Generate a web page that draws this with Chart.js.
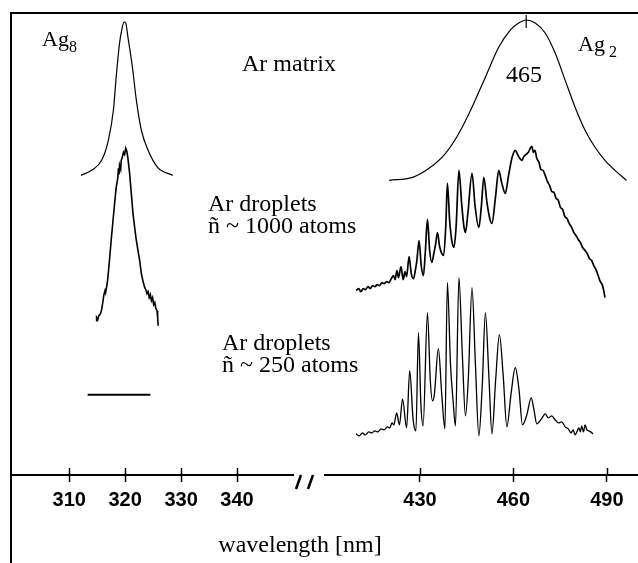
<!DOCTYPE html>
<html>
<head>
<meta charset="utf-8">
<script src="https://cdn.jsdelivr.net/npm/chart.js@4.4.1/dist/chart.umd.min.js"></script>
<style>
  html, body { margin: 0; padding: 0; background: #fff; }
  #wrap { width: 638px; height: 563px; }
</style>
</head>
<body>
<div id="wrap"><canvas id="chart" width="638" height="563"></canvas></div>
<script>
// Ag8, Ar matrix (smooth band around 320 nm)
const ag8MatrixNm  = [312.1, 314.0, 315.8, 317.0, 317.9, 318.4, 319.0, 319.5, 319.8, 320.1, 320.5, 321.3, 322.0, 322.9, 324.1, 325.8, 328.5];
const ag8MatrixInt = [299, 304, 314, 334, 364, 397, 431, 447, 452, 451, 437, 407, 374, 344, 324, 307, 299];

// Ag8, Ar droplets n ~ 1000
const ag8DropNm  = [314.8, 314.9, 315.1, 315.3, 315.6, 315.8, 316.0, 316.2, 316.4, 316.5, 316.7, 316.9, 317.2, 317.5, 317.8, 318.1, 318.4, 318.7, 318.8, 318.9, 319.0, 319.2, 319.3, 319.5, 319.7, 319.9, 320.1, 320.3, 320.5, 320.8, 321.1, 321.4, 321.7, 322.0, 322.3, 322.6, 322.9, 323.2, 323.5, 323.7, 323.9, 324.1, 324.3, 324.5, 324.7, 324.9, 325.1, 325.3, 325.5, 325.7, 325.8, 325.9];
const ag8DropInt = [154, 157, 155, 159, 161, 165, 172, 180, 184, 182, 188, 196, 214, 234, 252, 270, 287, 297, 306, 300, 309, 305, 314, 317, 322, 320, 326, 323, 316, 301, 281, 261, 247, 234, 224, 214, 201, 193, 187, 185, 181, 183, 177, 180, 174, 177, 170, 172, 166, 164, 158, 149];

// scale bar under the Ag8 traces
const ag8BarNm  = [313.3, 324.5];
const ag8BarInt = [80, 80];

// Ag2, Ar matrix (broad band, max at 465 nm)
const ag2MatrixNm  = [420.1, 427.6, 432.9, 438.2, 442.5, 446.7, 451.0, 455.3, 459.0, 461.7, 464.1, 467.0, 470.2, 473.4, 476.6, 479.8, 483.0, 486.2, 489.4, 492.6, 496.3];
const ag2MatrixInt = [294, 297, 306, 321, 341, 367, 397, 427, 444, 451, 454, 451, 441, 421, 394, 367, 344, 327, 314, 304, 294];
const ag2PeakNm  = [464.1, 464.1];
const ag2PeakInt = [446, 459];

// Ag2, Ar droplets n ~ 1000
const ag2D1000Nm  = [409.5, 410.3, 411.0, 411.8, 412.5, 413.3, 414.0, 414.8, 415.5, 416.3, 417.0, 417.8, 418.5, 419.3, 420.0, 420.8, 421.5, 422.0, 422.6, 423.1, 423.9, 424.6, 425.2, 425.7, 426.5, 427.2, 427.9, 428.6, 429.0, 429.7, 430.4, 431.1, 431.7, 432.4, 433.1, 433.8, 434.5, 435.0, 435.6, 436.3, 437.0, 437.6, 438.3, 438.8, 439.5, 440.2, 440.9, 441.6, 442.5, 443.4, 444.1, 444.6, 445.4, 446.7, 447.7, 448.9, 449.7, 450.5, 451.5, 452.4, 453.1, 454.2, 455.3, 456.2, 457.4, 458.4, 459.5, 460.6, 461.3, 462.0, 462.7, 463.4, 464.1, 464.8, 465.4, 465.9, 466.4, 466.9, 467.5, 468.2, 468.8, 469.5, 470.2, 470.9, 471.6, 472.3, 473.0, 473.7, 474.4, 475.1, 475.8, 476.5, 477.2, 477.9, 478.7, 479.4, 480.1, 480.8, 481.5, 482.2, 483.0, 483.7, 484.4, 485.1, 485.8, 486.5, 487.2, 487.9, 488.5, 489.0, 489.4];
const ag2D1000Int = [184, 186, 183, 186, 185, 188, 186, 189, 188, 190, 189, 192, 191, 193, 192, 196, 199, 195, 204, 197, 208, 195, 203, 198, 218, 201, 196, 206, 214, 234, 209, 199, 222, 255, 224, 212, 222, 230, 242, 228, 221, 219, 250, 291, 255, 234, 227, 248, 304, 270, 248, 242, 262, 301, 268, 247, 268, 297, 272, 256, 251, 276, 304, 292, 281, 298, 316, 324, 320, 316, 314, 318, 320, 322, 326, 328, 322, 324, 316, 312, 305, 304, 299, 293, 289, 283, 282, 276, 274, 267, 265, 258, 256, 251, 247, 242, 239, 235, 232, 227, 224, 221, 216, 214, 209, 205, 199, 193, 190, 184, 177];

// Ag2, Ar droplets n ~ 250
const ag2D250Nm  = [409.5, 410.5, 411.5, 412.5, 413.5, 414.5, 415.5, 416.5, 417.5, 418.5, 419.5, 420.3, 421.0, 421.6, 422.5, 423.4, 424.4, 425.7, 426.7, 427.8, 428.7, 429.5, 430.3, 431.0, 432.4, 433.3, 434.0, 434.6, 435.9, 437.0, 438.0, 438.8, 439.8, 440.6, 441.4, 442.5, 443.6, 444.6, 445.5, 446.7, 447.8, 448.9, 450.0, 451.0, 452.1, 453.1, 454.3, 455.5, 456.7, 457.9, 459.2, 460.6, 461.8, 462.9, 464.3, 465.7, 466.6, 467.5, 469.0, 470.2, 471.2, 472.3, 473.4, 474.5, 475.5, 476.6, 477.6, 478.5, 479.2, 479.8, 480.5, 481.0, 481.5, 481.9, 482.5, 483.0, 483.6, 484.2, 484.8, 485.6];
const ag2D250Int = [41, 39, 42, 40, 43, 42, 44, 43, 46, 45, 48, 47, 52, 50, 62, 50, 76, 47, 104, 55, 44, 142, 70, 49, 162, 95, 74, 80, 126, 80, 46, 192, 110, 75, 49, 197, 120, 59, 95, 187, 110, 39, 90, 162, 100, 41, 95, 140, 100, 48, 80, 107, 85, 50, 60, 77, 65, 51, 56, 61, 57, 59, 55, 52, 53, 48, 46, 42, 45, 40, 44, 47, 43, 49, 43, 50, 45, 44, 43, 41];

// tick labels
const leftTicks  = [310, 320, 330, 340];
const rightTicks = [430, 460, 490];

const pts = (xs, ys) => xs.map((x, i) => ({ x: x, y: ys[i] }));

const serif = 'Liberation Serif';
const sans = 'Liberation Sans';

// frame, tick tops, axis break and labels
const decor = {
  id: 'decor',
  afterDraw(chart) {
    const ctx = chart.ctx;
    const a = chart.chartArea;
    ctx.save();
    ctx.strokeStyle = '#000';
    ctx.fillStyle = '#000';
    ctx.lineWidth = 2;
    ctx.beginPath();
    ctx.moveTo(a.left, chart.height);
    ctx.lineTo(a.left, a.top);
    ctx.lineTo(chart.width, a.top);
    ctx.stroke();

    // upper halves of the ticks
    ctx.lineWidth = 1.5;
    ['xL', 'xR'].forEach(id => {
      const s = chart.scales[id];
      s.ticks.forEach(t => {
        const px = Math.round(s.getPixelForValue(t.value)) + 0.5;
        ctx.beginPath();
        ctx.moveTo(px, a.bottom - 7);
        ctx.lineTo(px, a.bottom);
        ctx.stroke();
      });
    });

    // axis break "//"
    const g = chart.scales.xG;
    ctx.lineWidth = 2.5;
    [g.left + 8, g.left + 20].forEach(x0 => {
      ctx.beginPath();
      ctx.moveTo(x0, a.bottom);
      ctx.lineTo(x0 - 5, a.bottom + 14);
      ctx.stroke();
    });

    ctx.textBaseline = 'alphabetic';
    ctx.textAlign = 'left';
    const txt = (s, x, y, size) => { ctx.font = size + 'px ' + serif; ctx.fillText(s, x, y); };
    txt('Ag', 42, 46, 22);
    txt('8', 69, 52, 16);
    txt('Ar matrix', 242, 71, 24);
    txt('Ag', 578, 51, 22);
    txt('2', 609, 57, 16);
    txt('Ar droplets', 208, 211, 24);
    txt('ñ ~ 1000 atoms', 208, 233, 24);
    txt('Ar droplets', 222, 350, 24);
    txt('ñ ~ 250 atoms', 222, 372, 24);
    ctx.textAlign = 'center';
    txt('465', 524, 82, 24);
    txt('wavelength [nm]', 300, 552, 24);
    ctx.restore();
  }
};

const noPad = s => { s.paddingLeft = 0; s.paddingRight = 0; };

const axisCommon = {
  type: 'linear',
  position: 'bottom',
  stack: 'wl',
  afterFit: noPad,
  border: { display: true, color: '#000', width: 2 },
  grid: { display: true, drawOnChartArea: false, drawTicks: true, tickLength: 7, tickWidth: 1.5, tickColor: '#000' },
  ticks: { color: '#000', padding: 6, maxRotation: 0, font: { family: sans, size: 20, weight: 'bold' } }
};

const line = (data, axis, width, smooth) => ({
  data: data,
  xAxisID: axis,
  yAxisID: 'y',
  borderColor: '#000',
  borderWidth: width,
  pointRadius: 0,
  cubicInterpolationMode: smooth ? 'monotone' : 'default',
  tension: 0,
  fill: false
});

new Chart(document.getElementById('chart').getContext('2d'), {
  type: 'line',
  data: {
    datasets: [
      line(pts(ag8MatrixNm, ag8MatrixInt), 'xL', 1.2, true),
      line(pts(ag8DropNm, ag8DropInt), 'xL', 1.6, false),
      line(pts(ag8BarNm, ag8BarInt), 'xL', 2, false),
      line(pts(ag2MatrixNm, ag2MatrixInt), 'xR', 1.2, true),
      line(pts(ag2PeakNm, ag2PeakInt), 'xR', 1.2, false),
      line(pts(ag2D1000Nm, ag2D1000Int), 'xR', 1.7, true),
      line(pts(ag2D250Nm, ag2D250Int), 'xR', 1.3, true)
    ]
  },
  options: {
    responsive: false,
    animation: false,
    devicePixelRatio: 1,
    layout: { padding: { left: 11, top: 13, right: 0, bottom: 45 } },
    plugins: { legend: { display: false }, tooltip: { enabled: false } },
    scales: {
      y: { display: false, min: 0, max: 461 },
      xL: Object.assign({}, axisCommon, {
        min: 299.6, max: 350, stackWeight: 282,
        afterBuildTicks: s => { s.ticks = leftTicks.map(v => ({ value: v })); }
      }),
      xG: {
        type: 'linear', position: 'bottom', stack: 'wl', stackWeight: 32, min: 0, max: 1,
        afterFit: noPad,
        border: { display: false }, grid: { display: false }, ticks: { display: false }
      },
      xR: Object.assign({}, axisCommon, {
        min: 399.5, max: 500, stackWeight: 313,
        afterBuildTicks: s => { s.ticks = rightTicks.map(v => ({ value: v })); }
      })
    }
  },
  plugins: [decor]
});
</script>
</body>
</html>
